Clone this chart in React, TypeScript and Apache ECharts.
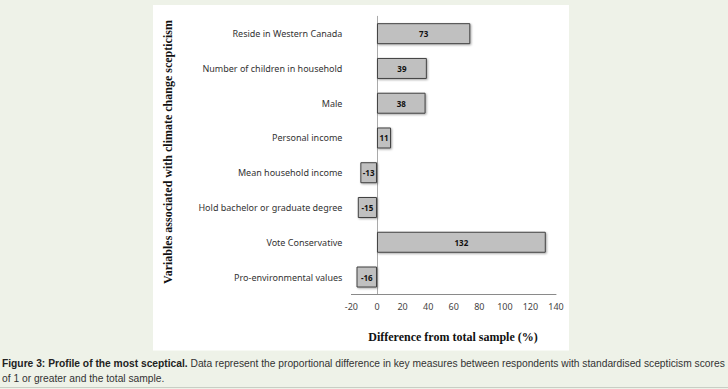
import React, { useEffect, useRef } from "react";
import * as echarts from "echarts";

const categories = [
  "Reside in Western Canada",
  "Number of children in household",
  "Male",
  "Personal income",
  "Mean household income",
  "Hold bachelor or graduate degree",
  "Vote Conservative",
  "Pro-environmental values",
];
const values = [73, 39, 38, 11, -13, -15, 132, -16];
const xTitle = "Difference from total sample (%)";
const yTitle = "Variables associated with climate change scepticism";
const captionBold = "Figure 3: Profile of the most sceptical.";
const captionRest =
  " Data represent the proportional difference in key measures between respondents with standardised scepticism scores";
const captionLine2 = "of 1 or greater and the total sample.";

export default function App() {
  const ref = useRef<HTMLDivElement>(null);
  useEffect(() => {
    document.body.style.margin = "0";
    const chart = echarts.init(ref.current!, null, { renderer: "svg" });
    chart.setOption({
      animation: false,
      backgroundColor: "#eef2e8",
      graphic: [
        { type: "rect", z: -10, shape: { x: 153, y: 5, width: 416, height: 345.5 }, style: { fill: "#ffffff" } },
        { type: "line", shape: { x1: 0, y1: 387.5, x2: 728, y2: 387.5 }, style: { stroke: "#c8cec4", lineWidth: 1 } },
        {
          type: "text",
          x: 168,
          y: 152,
          rotation: Math.PI / 2,
          style: {
            text: yTitle,
            font: "bold 12px 'Liberation Serif'",
            fill: "#111",
            align: "center",
            verticalAlign: "middle",
          },
        },
        {
          type: "text",
          x: 453,
          y: 337,
          style: {
            text: xTitle,
            font: "bold 12px 'Liberation Serif'",
            fill: "#111",
            align: "center",
            verticalAlign: "middle",
          },
        },
        {
          type: "text",
          x: 2,
          y: 363,
          style: {
            text: "{b|" + captionBold + "}{n|" + captionRest + "}",
            verticalAlign: "middle",
            rich: {
              b: { font: "bold 10.25px 'Liberation Sans'", fill: "#222" },
              n: { font: "10.25px 'Liberation Sans'", fill: "#333" },
            },
          },
        },
        {
          type: "text",
          x: 2,
          y: 378,
          style: {
            text: captionLine2,
            font: "10.25px 'Liberation Sans'",
            fill: "#333",
            verticalAlign: "middle",
          },
        },
      ],
      grid: { left: 351.4, right: 172, top: 16.3, bottom: 94.6, containLabel: false },
      xAxis: {
        type: "value",
        min: -20,
        max: 140,
        interval: 20,
        axisLine: { show: true, lineStyle: { color: "#8a8a8a" } },
        axisTick: { show: false },
        splitLine: { show: false },
        axisLabel: { color: "#444", fontSize: 9, fontFamily: "Noto Sans", margin: 8 },
      },
      yAxis: {
        type: "category",
        data: categories,
        inverse: true,
        axisLine: { show: true, onZero: true, lineStyle: { color: "#aaaaaa" } },
        axisTick: { show: false },
        axisLabel: { color: "#333", fontSize: 9, fontFamily: "Noto Sans", margin: 9 },
      },
      series: [
        {
          type: "bar",
          data: values,
          barWidth: 21,
          itemStyle: {
            color: "#c0c0c0",
            borderColor: "#404040",
            borderWidth: 1,
            shadowBlur: 2,
            shadowOffsetX: 1,
            shadowOffsetY: 1,
            shadowColor: "rgba(0,0,0,0.35)",
          },
          label: {
            show: true,
            position: "inside",
            color: "#111",
            fontSize: 8,
            fontWeight: "bold",
            fontFamily: "Noto Sans",
          },
        },
      ],
    });
    return () => chart.dispose();
  }, []);
  return (
    <div
      ref={ref}
      style={{ position: "absolute", left: 0, top: 0, width: 728, height: 389 }}
    />
  );
}
